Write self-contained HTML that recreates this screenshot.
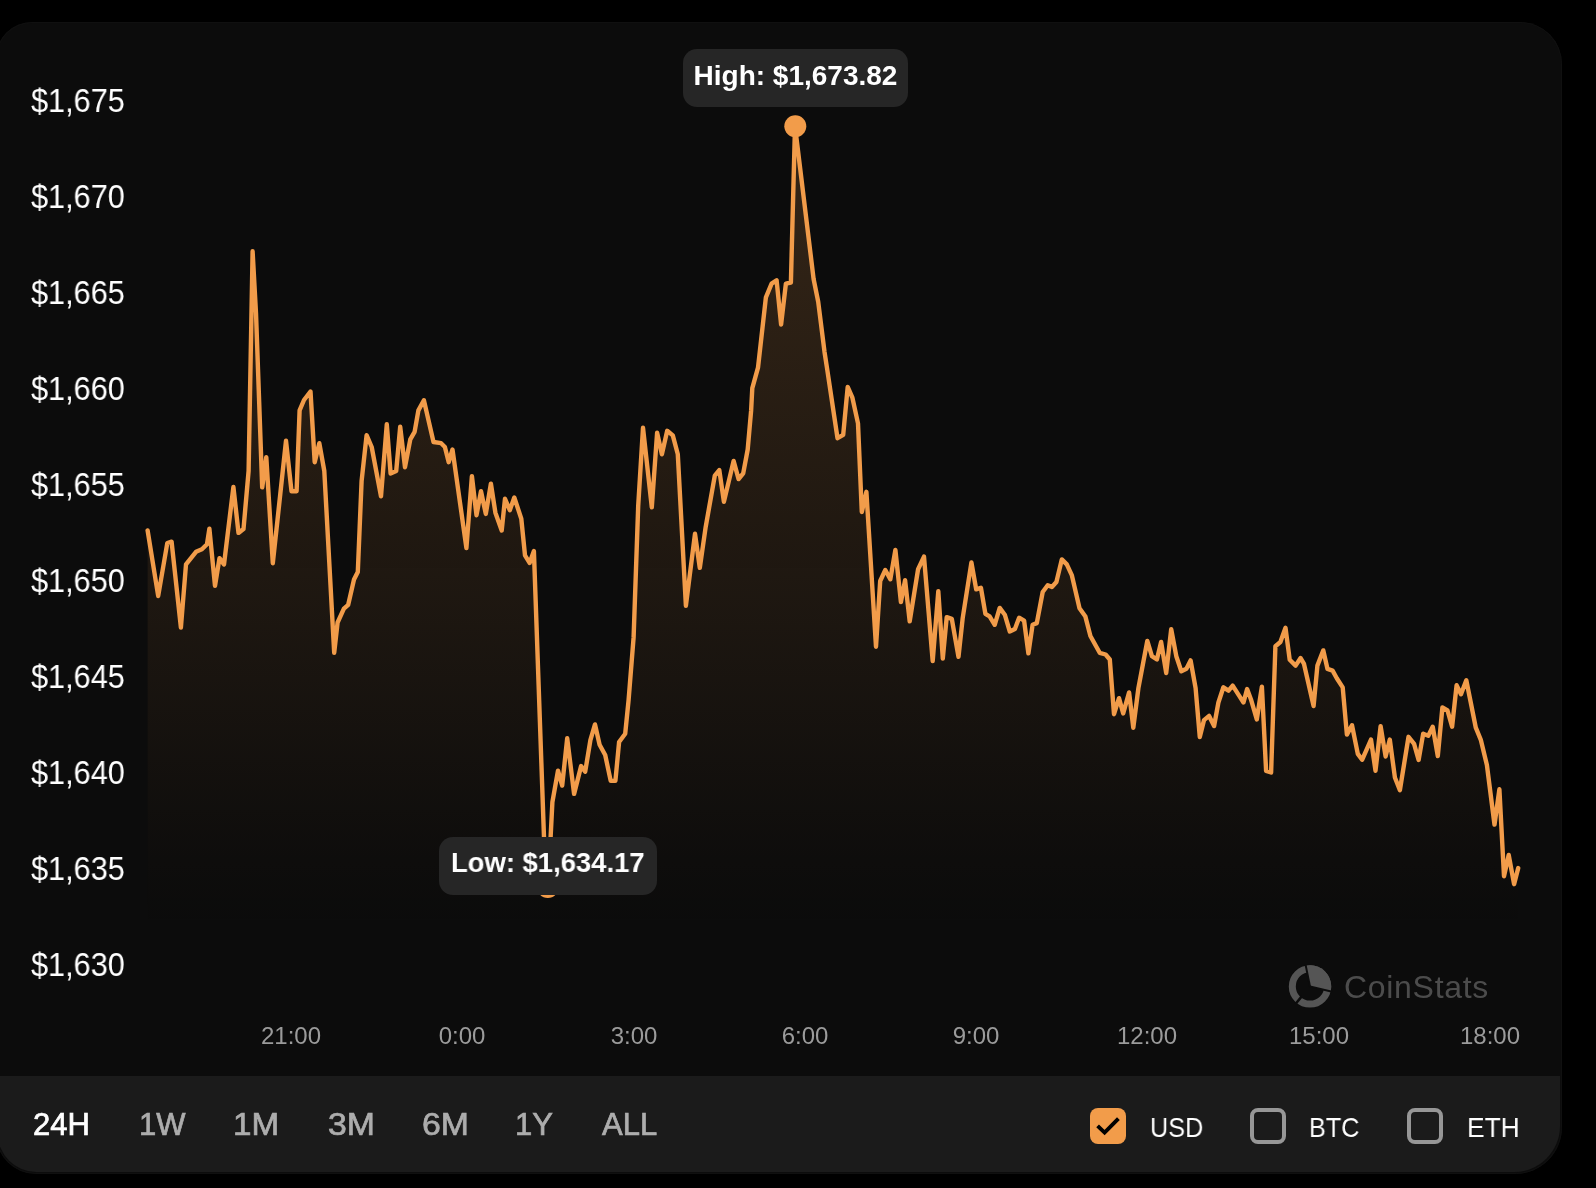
<!DOCTYPE html>
<html><head><meta charset="utf-8"><style>
*{margin:0;padding:0;box-sizing:border-box}
html,body{width:1596px;height:1188px;overflow:hidden;background:#000}
body{position:relative;font-family:"Liberation Sans",sans-serif;color:#fff}
.a{position:absolute;white-space:nowrap;line-height:1;will-change:transform}
.card{position:absolute;left:-4.5px;top:22px;width:1566.5px;height:1152px;border-radius:36px 42px 47px 40px;background:#0c0c0c;box-shadow:inset 0 0 0 1px #101010}
.bar{position:absolute;left:-2.5px;top:1076px;width:1562.5px;height:96px;border-radius:0 0 46px 38px;background:#1b1b1b}
.yl{font-size:33px;color:#fff;transform:scaleX(0.93);transform-origin:0 0}
.xl{font-size:24px;color:#9b9b9b;width:120px;text-align:center}
.tip{position:absolute;background:#262626;border-radius:14px}
.tt{font-size:28px;font-weight:bold;color:#fff;width:100%;text-align:center}
.rb{font-size:31px;color:#adadad;-webkit-text-stroke:0.7px #adadad}
.rb.on{color:#fff;-webkit-text-stroke:0.7px #fff}
.cb{position:absolute;width:36px;height:36px;border-radius:8px;border:4px solid #979797;top:1108px}
.cl{font-size:28px;color:#fff;transform:scaleX(0.9);transform-origin:0 0}
</style></head><body>
<div class="card"></div>
<div class="bar"></div>

<div class="a yl" style="left:31px;top:84.1px">$1,675</div>
<div class="a yl" style="left:31px;top:180.1px">$1,670</div>
<div class="a yl" style="left:31px;top:276.1px">$1,665</div>
<div class="a yl" style="left:31px;top:372.1px">$1,660</div>
<div class="a yl" style="left:31px;top:468.1px">$1,655</div>
<div class="a yl" style="left:31px;top:564.1px">$1,650</div>
<div class="a yl" style="left:31px;top:660.1px">$1,645</div>
<div class="a yl" style="left:31px;top:756.1px">$1,640</div>
<div class="a yl" style="left:31px;top:852.1px">$1,635</div>
<div class="a yl" style="left:31px;top:948.1px">$1,630</div>
<div class="a xl" style="left:231.0px;top:1023.7px">21:00</div>
<div class="a xl" style="left:402.3px;top:1023.7px">0:00</div>
<div class="a xl" style="left:573.5px;top:1023.7px">3:00</div>
<div class="a xl" style="left:744.8px;top:1023.7px">6:00</div>
<div class="a xl" style="left:916.1px;top:1023.7px">9:00</div>
<div class="a xl" style="left:1087.3px;top:1023.7px">12:00</div>
<div class="a xl" style="left:1258.6px;top:1023.7px">15:00</div>
<div class="a xl" style="left:1429.9px;top:1023.7px">18:00</div>
<svg class="a" style="left:0;top:0" width="1596" height="1188" viewBox="0 0 1596 1188">
<defs><linearGradient id="g" x1="0" y1="126" x2="0" y2="930" gradientUnits="userSpaceOnUse">
<stop offset="0" stop-color="#f29c4a" stop-opacity="0.18"/>
<stop offset="0.3" stop-color="#f29c4a" stop-opacity="0.13"/>
<stop offset="0.6" stop-color="#f29c4a" stop-opacity="0.075"/>
<stop offset="0.9" stop-color="#f29c4a" stop-opacity="0.015"/>
<stop offset="1" stop-color="#f29c4a" stop-opacity="0"/>
</linearGradient></defs>
<path d="M147.6 530.4 L158.2 596 L167.3 543 L171.6 541.7 L180.9 627.6 L186 564.4 L196 551.8 L201.9 549.3 L207 544.2 L209.4 528.6 L215 585.9 L219.5 558.1 L224 564.4 L233.4 486.9 L238.5 532.9 L243.5 529.1 L248.6 471 L252.6 251.3 L256 313 L262.2 487.4 L266.3 457.1 L272.8 563.2 L277.6 519 L286 440.7 L291.5 491.2 L296.6 491.2 L299.6 410.4 L304 400 L310.5 391.5 L314.7 462.2 L319.3 443.2 L324.3 471 L334.2 652.8 L337.6 622.5 L343.9 608.6 L348.2 604.8 L354 579.6 L357.8 572 L361.6 481.1 L366.6 435.2 L371.7 447 L381 496.3 L386.8 424.3 L390.6 473.5 L396.2 471 L400.2 426.8 L405 467.2 L410.3 439.4 L414.6 431.9 L418.4 410.4 L423.9 400.3 L433.5 442 L441.1 443.2 L444.9 447 L448.7 462.2 L452.5 449.5 L466.4 548 L471.9 476.1 L476.5 515.2 L481 491.2 L485.8 513.9 L490.9 483.6 L495.4 512.7 L501.7 530.4 L505 498.8 L509.8 510.2 L514.3 497.5 L521.3 518.7 L525 555.3 L529.6 562.9 L533.9 551 L544 837.4 L547.5 887 L550.6 837.4 L552.4 802.2 L558 770.7 L562.2 785.6 L567.2 738.3 L574.1 793.9 L581.1 766.1 L585.2 771.7 L590.4 740.2 L595 724.4 L599.6 744.8 L605.2 755 L610.7 780.9 L615.4 780.9 L619.1 742 L625.2 733.7 L628.6 700 L633.6 637.4 L638.2 506 L643 427.8 L651.8 507.3 L657.1 432.8 L661.9 454.3 L667.2 430.8 L672.8 435.4 L677.8 454.3 L685.9 605.8 L695 533.8 L699.8 567.9 L705.7 526.8 L714.8 475.7 L719.3 470 L723.9 501.8 L733.6 460.9 L738.6 479.1 L743.2 473.4 L747.7 449.5 L751.1 410.9 L752.3 388.2 L758 367.7 L765.9 297.3 L771.6 283.6 L776.6 280.2 L781.1 324.5 L785.9 283.6 L790.9 282.5 L795 126 L813.6 279 L818.2 301.8 L824.5 351.8 L827.3 370 L837.5 438.2 L843.2 434.8 L847.7 387 L852.3 397.3 L858 423.4 L861.8 512 L866.4 491.8 L876 646.7 L880.2 581 L885.3 570 L890.3 579.3 L895.4 549.9 L900.9 602 L905.1 580.2 L909.7 621.4 L918.1 569.2 L924 556.6 L932.7 661 L938.3 591.1 L942.8 658.5 L946.7 617.2 L951.8 618.9 L958.5 656.8 L962.7 618 L971.4 562.5 L976.2 589.4 L980.9 587.7 L985.4 613.8 L989.6 616.4 L994.7 624.8 L999.7 607.9 L1004.8 614.7 L1009.8 631.5 L1014.9 629 L1019.1 617.7 L1024.1 620.6 L1028.4 653.4 L1032.6 624.8 L1036.8 623.1 L1042.7 592 L1047.7 585.2 L1051.9 586.9 L1056.4 582 L1061.8 559.4 L1066.8 564.4 L1071.9 575.4 L1079.5 608.2 L1085.4 616.6 L1090.4 636 L1099.7 652.8 L1105.6 654.5 L1109.8 659.5 L1114 714.2 L1119 698.2 L1123.2 713.4 L1129.1 692.4 L1133.3 727.7 L1138.4 688.1 L1147.3 641 L1151.9 656.2 L1156.9 659.5 L1161.1 641.9 L1166.2 673 L1171.2 629.2 L1176.3 656.2 L1181.3 671.3 L1186.4 668.8 L1190.6 660.4 L1195.6 688.1 L1199.8 737 L1204 720.1 L1209.1 715.9 L1214.1 726 L1218.4 702.5 L1223.4 687.3 L1228.5 690.7 L1232.7 685.6 L1238.6 694.9 L1243.5 702.5 L1247.1 689.1 L1250.9 699.2 L1256.8 719.4 L1261.9 686.6 L1266.1 770.8 L1271.1 772.5 L1275.4 646.2 L1280.4 642 L1285.5 627.7 L1289.7 659.7 L1295.6 665.6 L1300.6 658 L1304 663.9 L1313.6 706 L1317.4 665.6 L1323.3 650.4 L1327.5 668.9 L1332.6 670.6 L1336.8 678.2 L1342.7 687.4 L1346.9 734.6 L1352 725.3 L1357.8 753.9 L1362.1 759.8 L1371 739.6 L1375.5 770.8 L1380.6 726.2 L1385.6 756.5 L1389.8 739.6 L1394.9 777.5 L1399.9 790.1 L1408.5 736.8 L1414.1 743.8 L1418.6 760 L1423.2 733.7 L1428.3 735.8 L1432.7 726.7 L1437.8 756 L1442.4 707.5 L1447.5 710.5 L1452.1 726.7 L1456.6 685.3 L1461 694.3 L1466.3 680.2 L1475.8 727.7 L1480.8 739.8 L1486.9 765 L1494.5 824.6 L1499.4 789.3 L1504 876.2 L1508.7 855 L1514.1 884.2 L1518.2 868.1 L1518.2 930 L147.6 930 Z" fill="url(#g)"/>
<path d="M147.6 530.4 L158.2 596 L167.3 543 L171.6 541.7 L180.9 627.6 L186 564.4 L196 551.8 L201.9 549.3 L207 544.2 L209.4 528.6 L215 585.9 L219.5 558.1 L224 564.4 L233.4 486.9 L238.5 532.9 L243.5 529.1 L248.6 471 L252.6 251.3 L256 313 L262.2 487.4 L266.3 457.1 L272.8 563.2 L277.6 519 L286 440.7 L291.5 491.2 L296.6 491.2 L299.6 410.4 L304 400 L310.5 391.5 L314.7 462.2 L319.3 443.2 L324.3 471 L334.2 652.8 L337.6 622.5 L343.9 608.6 L348.2 604.8 L354 579.6 L357.8 572 L361.6 481.1 L366.6 435.2 L371.7 447 L381 496.3 L386.8 424.3 L390.6 473.5 L396.2 471 L400.2 426.8 L405 467.2 L410.3 439.4 L414.6 431.9 L418.4 410.4 L423.9 400.3 L433.5 442 L441.1 443.2 L444.9 447 L448.7 462.2 L452.5 449.5 L466.4 548 L471.9 476.1 L476.5 515.2 L481 491.2 L485.8 513.9 L490.9 483.6 L495.4 512.7 L501.7 530.4 L505 498.8 L509.8 510.2 L514.3 497.5 L521.3 518.7 L525 555.3 L529.6 562.9 L533.9 551 L544 837.4 L547.5 887 L550.6 837.4 L552.4 802.2 L558 770.7 L562.2 785.6 L567.2 738.3 L574.1 793.9 L581.1 766.1 L585.2 771.7 L590.4 740.2 L595 724.4 L599.6 744.8 L605.2 755 L610.7 780.9 L615.4 780.9 L619.1 742 L625.2 733.7 L628.6 700 L633.6 637.4 L638.2 506 L643 427.8 L651.8 507.3 L657.1 432.8 L661.9 454.3 L667.2 430.8 L672.8 435.4 L677.8 454.3 L685.9 605.8 L695 533.8 L699.8 567.9 L705.7 526.8 L714.8 475.7 L719.3 470 L723.9 501.8 L733.6 460.9 L738.6 479.1 L743.2 473.4 L747.7 449.5 L751.1 410.9 L752.3 388.2 L758 367.7 L765.9 297.3 L771.6 283.6 L776.6 280.2 L781.1 324.5 L785.9 283.6 L790.9 282.5 L795 126 L813.6 279 L818.2 301.8 L824.5 351.8 L827.3 370 L837.5 438.2 L843.2 434.8 L847.7 387 L852.3 397.3 L858 423.4 L861.8 512 L866.4 491.8 L876 646.7 L880.2 581 L885.3 570 L890.3 579.3 L895.4 549.9 L900.9 602 L905.1 580.2 L909.7 621.4 L918.1 569.2 L924 556.6 L932.7 661 L938.3 591.1 L942.8 658.5 L946.7 617.2 L951.8 618.9 L958.5 656.8 L962.7 618 L971.4 562.5 L976.2 589.4 L980.9 587.7 L985.4 613.8 L989.6 616.4 L994.7 624.8 L999.7 607.9 L1004.8 614.7 L1009.8 631.5 L1014.9 629 L1019.1 617.7 L1024.1 620.6 L1028.4 653.4 L1032.6 624.8 L1036.8 623.1 L1042.7 592 L1047.7 585.2 L1051.9 586.9 L1056.4 582 L1061.8 559.4 L1066.8 564.4 L1071.9 575.4 L1079.5 608.2 L1085.4 616.6 L1090.4 636 L1099.7 652.8 L1105.6 654.5 L1109.8 659.5 L1114 714.2 L1119 698.2 L1123.2 713.4 L1129.1 692.4 L1133.3 727.7 L1138.4 688.1 L1147.3 641 L1151.9 656.2 L1156.9 659.5 L1161.1 641.9 L1166.2 673 L1171.2 629.2 L1176.3 656.2 L1181.3 671.3 L1186.4 668.8 L1190.6 660.4 L1195.6 688.1 L1199.8 737 L1204 720.1 L1209.1 715.9 L1214.1 726 L1218.4 702.5 L1223.4 687.3 L1228.5 690.7 L1232.7 685.6 L1238.6 694.9 L1243.5 702.5 L1247.1 689.1 L1250.9 699.2 L1256.8 719.4 L1261.9 686.6 L1266.1 770.8 L1271.1 772.5 L1275.4 646.2 L1280.4 642 L1285.5 627.7 L1289.7 659.7 L1295.6 665.6 L1300.6 658 L1304 663.9 L1313.6 706 L1317.4 665.6 L1323.3 650.4 L1327.5 668.9 L1332.6 670.6 L1336.8 678.2 L1342.7 687.4 L1346.9 734.6 L1352 725.3 L1357.8 753.9 L1362.1 759.8 L1371 739.6 L1375.5 770.8 L1380.6 726.2 L1385.6 756.5 L1389.8 739.6 L1394.9 777.5 L1399.9 790.1 L1408.5 736.8 L1414.1 743.8 L1418.6 760 L1423.2 733.7 L1428.3 735.8 L1432.7 726.7 L1437.8 756 L1442.4 707.5 L1447.5 710.5 L1452.1 726.7 L1456.6 685.3 L1461 694.3 L1466.3 680.2 L1475.8 727.7 L1480.8 739.8 L1486.9 765 L1494.5 824.6 L1499.4 789.3 L1504 876.2 L1508.7 855 L1514.1 884.2 L1518.2 868.1" fill="none" stroke="#f29c4a" stroke-width="4.4" stroke-linejoin="round" stroke-linecap="round"/>
<circle cx="795.3" cy="126.3" r="11" fill="#f29c4a"/>
<circle cx="547.8" cy="887" r="11" fill="#f29c4a"/>
<g><circle cx="1310.0" cy="986.4" r="17.7" fill="none" stroke="#555" stroke-width="7"/><path d="M1310.0 986.4 L1305.74 965.63 A21.2 21.2 0 0 1 1330.59 991.46 Z" fill="#555"/><line x1="1310.0" y1="986.4" x2="1305.44" y2="964.16" stroke="#0c0c0c" stroke-width="2"/><line x1="1310.0" y1="986.4" x2="1332.04" y2="991.81" stroke="#0c0c0c" stroke-width="2"/><line x1="1301.73" y1="996.43" x2="1295.69" y2="1003.76" stroke="#0c0c0c" stroke-width="2.6"/></g>
</svg>

<div class="tip" style="left:683px;top:49px;width:225px;height:58px"><div class="a tt" style="left:0;top:13.1px">High: $1,673.82</div></div>
<div class="tip" style="left:439px;top:837px;width:217.5px;height:57.6px"><div class="a tt" style="left:0;top:12.3px;transform:scaleX(0.98)">Low: $1,634.17</div></div>
<div class="a" style="left:1344px;top:971.4px;font-size:32px;color:#4c4c4c;letter-spacing:0.7px">CoinStats</div>
<div class="a rb on" style="left:33.0px;top:1108.8px;transform:scaleX(1);transform-origin:0 0">24H</div>
<div class="a rb" style="left:139.0px;top:1108.8px;transform:scaleX(1);transform-origin:0 0">1W</div>
<div class="a rb" style="left:233.4px;top:1108.8px;transform:scaleX(1.07);transform-origin:0 0">1M</div>
<div class="a rb" style="left:328.0px;top:1108.8px;transform:scaleX(1.09);transform-origin:0 0">3M</div>
<div class="a rb" style="left:421.5px;top:1108.8px;transform:scaleX(1.09);transform-origin:0 0">6M</div>
<div class="a rb" style="left:514.8px;top:1108.8px;transform:scaleX(1);transform-origin:0 0">1Y</div>
<div class="a rb" style="left:602.0px;top:1108.8px;transform:scaleX(1);transform-origin:0 0">ALL</div>
<div class="cb" style="left:1090px;background:#f29c4a;border:none"><svg width="36" height="36" style="position:absolute;left:0;top:0"><path d="M7.6 17.8 L14.6 24.6 L28.4 10.6" fill="none" stroke="#000" stroke-width="3.9"/></svg></div>
<div class="cb" style="left:1250px"></div>
<div class="cb" style="left:1407px"></div>
<div class="a cl" style="left:1150.0px;top:1114.1px;transform:scaleX(0.9)">USD</div>
<div class="a cl" style="left:1309.0px;top:1114.1px;transform:scaleX(0.9)">BTC</div>
<div class="a cl" style="left:1467.0px;top:1114.1px;transform:scaleX(0.94)">ETH</div>
</body></html>
